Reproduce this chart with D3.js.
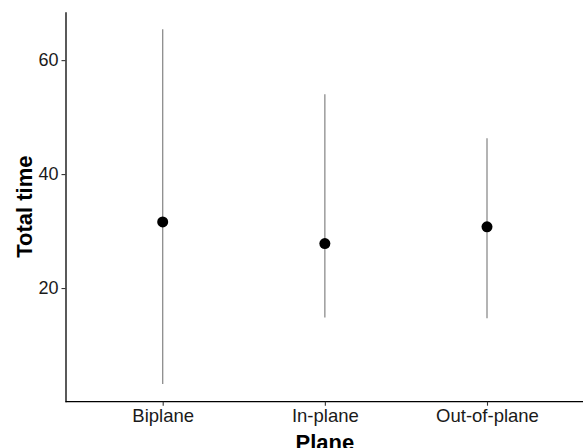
<!DOCTYPE html>
<html>
<head>
<meta charset="utf-8">
<script src="https://cdn.jsdelivr.net/npm/d3@7"></script>
<style>
  html, body { margin: 0; padding: 0; background: #fff; overflow: hidden; }
  svg { display: block; }
</style>
</head>
<body>
<script>
const categories = ["Biplane", "In-plane", "Out-of-plane"];
const means = [31.6, 27.8, 30.75];
const lows = [3.15, 14.85, 14.7];
const highs = [65.4, 54.0, 46.3];
const yTicks = [20, 40, 60];

(function () {
const W = 583, H = 448;
const svg = d3.select("body").append("svg").attr("width", W).attr("height", H);

const mLeft = 65.5, mRight = 584.5, mTop = 11.7, mBottom = 401.7;

const x = d3.scalePoint().domain(categories).range([162.7, 487]);
const y = d3.scaleLinear().domain([0.05, 68.5]).range([mBottom, mTop]);

const font = "'Liberation Sans', Arial, sans-serif";

// error bars
svg.append("g").selectAll("line").data(categories).join("line")
  .attr("x1", d => x(d)).attr("x2", d => x(d))
  .attr("y1", (d, i) => y(lows[i])).attr("y2", (d, i) => y(highs[i]))
  .attr("stroke", "#8c8c8c").attr("stroke-width", 1.3);

// points
svg.append("g").selectAll("circle").data(categories).join("circle")
  .attr("cx", d => x(d)).attr("cy", (d, i) => y(means[i]))
  .attr("r", 5.5).attr("fill", "#000");

// y axis
const yAxis = svg.append("g").attr("transform", `translate(${mLeft},0)`)
  .call(d3.axisLeft(y).tickValues(yTicks).tickSize(4).tickPadding(3).tickSizeOuter(0));
yAxis.select(".domain").attr("stroke", "#000").attr("stroke-width", 1.3);
yAxis.selectAll(".tick line").attr("stroke", "#333").attr("stroke-width", 1.1);
yAxis.selectAll(".tick text").attr("fill", "#1a1a1a").style("font-family", font).style("font-size", "18px");

// x axis
const xAxis = svg.append("g").attr("transform", `translate(0,${mBottom})`)
  .call(d3.axisBottom(x).tickSize(4).tickPadding(3).tickSizeOuter(0));
xAxis.select(".domain").attr("d", `M${mLeft},0H${mRight}`).attr("stroke", "#000").attr("stroke-width", 1.3);
xAxis.selectAll(".tick line").attr("stroke", "#333").attr("stroke-width", 1.1);
xAxis.selectAll(".tick text").attr("fill", "#1a1a1a").style("font-family", font).style("font-size", "18.5px");

// axis titles
svg.append("text")
  .attr("transform", `translate(31.5,${(mTop + mBottom) / 2}) rotate(-90)`)
  .attr("text-anchor", "middle")
  .style("font-family", font).style("font-size", "22px").style("font-weight", "bold")
  .attr("fill", "#000")
  .text("Total time");

svg.append("text")
  .attr("x", x("In-plane")).attr("y", 450)
  .attr("text-anchor", "middle")
  .style("font-family", font).style("font-size", "22px").style("font-weight", "bold")
  .attr("fill", "#000")
  .text("Plane");
})();
</script>
</body>
</html>
